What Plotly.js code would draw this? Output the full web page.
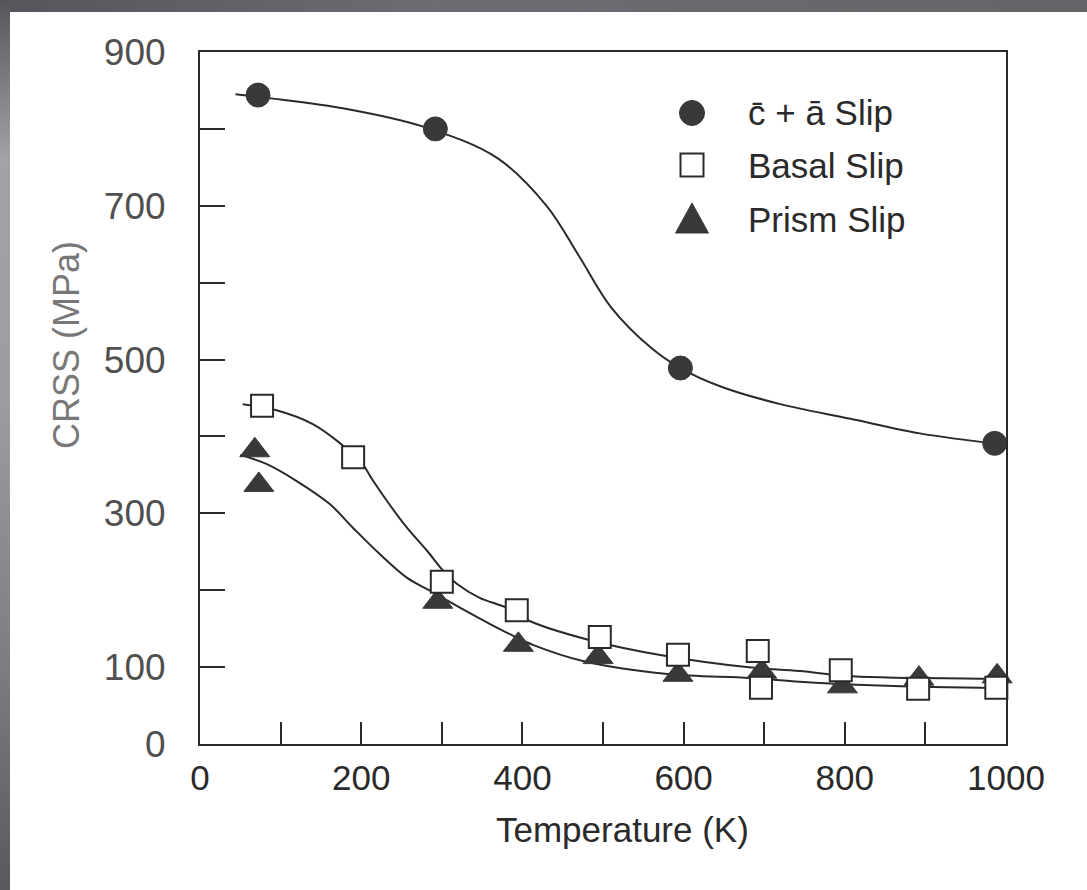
<!DOCTYPE html>
<html><head><meta charset="utf-8">
<script src="https://cdn.plot.ly/plotly-3.0.1.min.js"></script>
<style>
html,body{margin:0;padding:0;background:#fff;overflow:hidden}
#chart{position:absolute;left:0;top:0;width:1087px;height:890px}
#bandTop{position:absolute;left:0;top:0;width:1087px;height:12px;background:linear-gradient(to right,#55555b,#6c6c72 40%,#646469);z-index:5}
#bandLeft{position:absolute;left:0;top:0;width:10px;height:890px;background:linear-gradient(to bottom,#55555b,#a2a2a8 18%,#9c9ca2 45%,#7c7c82 75%,#58585e);z-index:5}
</style></head>
<body>
<div id="chart"></div><div id="bandTop"></div><div id="bandLeft"></div>
<script>
// ---- axis ticks ----
const tempTicks = [0,100,200,300,400,500,600,700,800,900,1000];
const tempTickLabels = ['0','','200','','400','','600','','800','','1000'];
const crssTicks = [0,100,200,300,400,500,600,700,800,900];
const crssTickLabels = ['0','100','','300','','500','','700','','900'];

// ---- series names ----
const seriesNames = ['c\u0304 + \u0101 Slip','Basal Slip','Prism Slip'];

// ---- measured points ----
const caT = [72,292,596,986];
const caCRSS = [844,800,489,391];
const basalT = [77,190,300,393,496,593,692,696,795,891,988];
const basalCRSS = [440,373,211,174,139,116,121,73,96,72,73];
const prismT = [68,73,295,395,494,593,697,797,892,989];
const prismCRSS = [382,337,185,129,113,90,94,75,85,88];

// ---- fitted curves ----
const caFitT = [44,86,182,277,369,430,470,510,560,596,646,720,807,893,993];
const caFitCRSS = [845,840,826,803,762,700,635,568,515,489,465,442,423,404,390];
const basalFitT = [53,95,140,174,199,215,232,257,282,302,319,347,381,409,484,580,678,744,809,968,993];
const basalFitCRSS = [442,434,416,391,368,342,316,281,251,225,208,190,177,160,135,114,100,95,88,85,85];
const prismFitT = [50,83,120,161,190,223,257,286,323,360,388,413,475,580,682,744,815,968,993];
const prismFitCRSS = [376,364,342,312,281,247,216,199,177,156,141,129,108,91,86,81,77,73,73];

const ink = '#2a2a2a';
const fill = '#3b3838';
const L = 200, R = 81, T = 52, B = 146, W = 1087 - L - R, H = 890 - T - B;
const px = v => (v - L) / W;
const py = v => (890 - B - v) / H;

const fitLine = {color: ink, width: 2, shape: 'spline', smoothing: 1};
const traces = [
  {x: caFitT, y: caFitCRSS, mode: 'lines', line: fitLine, hoverinfo: 'skip'},
  {x: basalFitT, y: basalFitCRSS, mode: 'lines', line: fitLine, hoverinfo: 'skip'},
  {x: prismFitT, y: prismFitCRSS, mode: 'lines', line: fitLine, hoverinfo: 'skip'},
  {x: prismT, y: prismCRSS, name: seriesNames[2], mode: 'markers', cliponaxis: false,
   marker: {symbol: 'triangle-up', size: 26, color: fill, line: {color: fill, width: 1}}},
  {x: basalT, y: basalCRSS, name: seriesNames[1], mode: 'markers', cliponaxis: false,
   marker: {symbol: 'square', size: 22, color: '#ffffff', line: {color: ink, width: 2}}},
  {x: caT, y: caCRSS, name: seriesNames[0], mode: 'markers', cliponaxis: false,
   marker: {symbol: 'circle', size: 24, color: fill, line: {color: fill, width: 1}}}
];

const font = 'Liberation Sans, Arial, sans-serif';
const legendRows = [113, 165, 219];
const annotations = [
  {text: 'Temperature (K)', xref: 'paper', yref: 'paper', x: px(622), y: py(830), xanchor: 'center', yanchor: 'middle',
   showarrow: false, font: {size: 35, color: ink, family: font}},
  {text: 'CRSS (MPa)', xref: 'paper', yref: 'paper', x: px(66), y: py(345), xanchor: 'center', yanchor: 'middle',
   textangle: -90, showarrow: false, font: {size: 36, color: '#777777', family: font}}
];
seriesNames.forEach((n, i) => annotations.push({
  text: n, xref: 'paper', yref: 'paper', x: px(746), y: py(legendRows[i]), xanchor: 'left', yanchor: 'middle',
  showarrow: false, font: {size: 35, color: ink, family: font}
}));

const sx = 692;
const shapes = [
  {type: 'circle', xref: 'paper', yref: 'paper', x0: px(sx - 12.5), x1: px(sx + 12.5), y0: py(legendRows[0] + 12.5), y1: py(legendRows[0] - 12.5),
   fillcolor: fill, line: {color: fill, width: 1}},
  {type: 'rect', xref: 'paper', yref: 'paper', x0: px(sx - 11.5), x1: px(sx + 11.5), y0: py(legendRows[1] + 11.5), y1: py(legendRows[1] - 11.5),
   fillcolor: '#ffffff', line: {color: ink, width: 2}},
  {type: 'path', xref: 'paper', yref: 'paper',
   path: 'M ' + px(sx) + ' ' + py(legendRows[2] - 16) + ' L ' + px(sx - 16.5) + ' ' + py(legendRows[2] + 14) + ' L ' + px(sx + 16.5) + ' ' + py(legendRows[2] + 14) + ' Z',
   fillcolor: fill, line: {color: fill, width: 1}}
];

const layout = {
  width: 1087, height: 890,
  margin: {l: L, r: R, t: T, b: B, pad: 0},
  paper_bgcolor: '#ffffff', plot_bgcolor: '#ffffff',
  showlegend: false,
  font: {family: font, color: ink},
  xaxis: {range: [0, 1000], tickmode: 'array', tickvals: tempTicks, ticktext: tempTickLabels,
    ticks: 'inside', ticklen: 22, tickwidth: 2, tickcolor: ink,
    showline: true, linewidth: 2, linecolor: ink, mirror: true, showgrid: false, zeroline: false,
    tickfont: {size: 35, color: ink, family: font}, ticklabelstandoff: 2},
  yaxis: {range: [0, 900], tickmode: 'array', tickvals: crssTicks, ticktext: crssTickLabels,
    ticks: 'inside', ticklen: 25, tickwidth: 2, tickcolor: ink,
    showline: true, linewidth: 2, linecolor: ink, mirror: true, showgrid: false, zeroline: false,
    tickfont: {size: 37, color: '#505050', family: font}, ticklabelstandoff: 25},
  annotations: annotations,
  shapes: shapes
};

Plotly.newPlot('chart', traces, layout, {displayModeBar: false, staticPlot: true});
</script>
</body></html>
